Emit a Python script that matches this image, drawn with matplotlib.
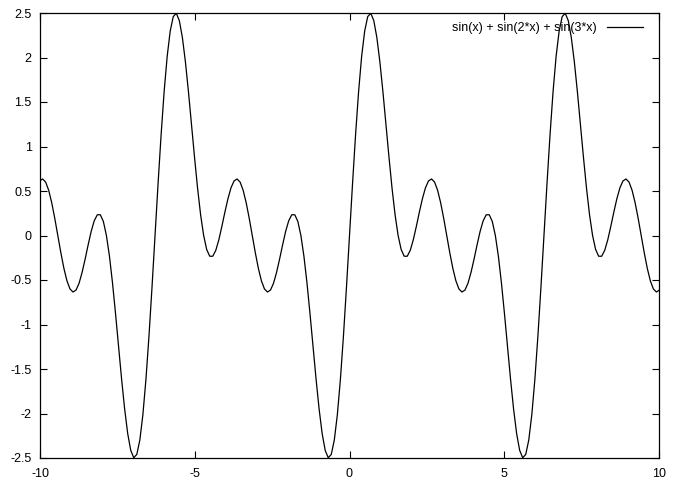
import numpy as np
import matplotlib
matplotlib.use("Agg")
from matplotlib import pyplot as plt

# samples every pi/32 from k=-102 to k=102 (x = k*pi/32)
k_start, k_end = -102, 102
y = [
    # k = -102 .. -65
    0.613, 0.635, 0.600, 0.508, 0.368, 0.193, 0.000, -0.193, -0.368, -0.508,
    -0.600, -0.635, -0.613, -0.536, -0.414, -0.264, -0.103, 0.048, 0.166, 0.233,
    0.233, 0.157, 0.000, -0.233, -0.532, -0.878, -1.248, -1.615, -1.950, -2.225,
    -2.414, -2.497, -2.460, -2.298, -2.014, -1.619, -1.133, -0.583,
    # k = -64 .. -1
    0.000, 0.583, 1.133, 1.619, 2.014, 2.298, 2.460, 2.497, 2.414, 2.225,
    1.950, 1.615, 1.248, 0.878, 0.532, 0.233, 0.000, -0.157, -0.233, -0.233,
    -0.166, -0.048, 0.103, 0.264, 0.414, 0.536, 0.613, 0.635, 0.600, 0.508,
    0.368, 0.193, 0.000, -0.193, -0.368, -0.508, -0.600, -0.635, -0.613, -0.536,
    -0.414, -0.264, -0.103, 0.048, 0.166, 0.233, 0.233, 0.157, 0.000, -0.233,
    -0.532, -0.878, -1.248, -1.615, -1.950, -2.225, -2.414, -2.497, -2.460, -2.298,
    -2.014, -1.619, -1.133, -0.583,
    # k = 0 .. 63
    0.000, 0.583, 1.133, 1.619, 2.014, 2.298, 2.460, 2.497, 2.414, 2.225,
    1.950, 1.615, 1.248, 0.878, 0.532, 0.233, 0.000, -0.157, -0.233, -0.233,
    -0.166, -0.048, 0.103, 0.264, 0.414, 0.536, 0.613, 0.635, 0.600, 0.508,
    0.368, 0.193, 0.000, -0.193, -0.368, -0.508, -0.600, -0.635, -0.613, -0.536,
    -0.414, -0.264, -0.103, 0.048, 0.166, 0.233, 0.233, 0.157, 0.000, -0.233,
    -0.532, -0.878, -1.248, -1.615, -1.950, -2.225, -2.414, -2.497, -2.460, -2.298,
    -2.014, -1.619, -1.133, -0.583,
    # k = 64 .. 102
    0.000, 0.583, 1.133, 1.619, 2.014, 2.298, 2.460, 2.497, 2.414, 2.225,
    1.950, 1.615, 1.248, 0.878, 0.532, 0.233, 0.000, -0.157, -0.233, -0.233,
    -0.166, -0.048, 0.103, 0.264, 0.414, 0.536, 0.613, 0.635, 0.600, 0.508,
    0.368, 0.193, 0.000, -0.193, -0.368, -0.508, -0.600, -0.635, -0.613,
]
x = np.arange(k_start, k_end + 1) * np.pi / 32

label = "sin(x) + sin(2*x) + sin(3*x)"
xticks = [-10, -5, 0, 5, 10]
yticks = [-2.5, -2, -1.5, -1, -0.5, 0, 0.5, 1, 1.5, 2, 2.5]

plt.rcParams['font.family'] = ['Liberation Sans', 'DejaVu Sans']
plt.rcParams['font.size'] = 9

fig = plt.figure(figsize=(6.77, 4.88), dpi=100)
ax = fig.add_axes([40/677, 1 - 458/488, 619/677, 445/488])

ax.plot(x, y, color="black", lw=0.9, label=label)
ax.set_xlim(-10, 10)
ax.set_ylim(-2.5, 2.5)
ax.set_xticks(xticks)
ax.set_xticklabels([str(t) for t in xticks])
ax.set_yticks(yticks)
ax.set_yticklabels([("%g" % t) for t in yticks])

ax.tick_params(direction="in", length=5, width=0.8, top=True, right=True, pad=6)
ax.tick_params(axis="x", pad=7)
for s in ax.spines.values():
    s.set_linewidth(0.9)

# legend sits inside the top right corner, line sample after the text
ax.legend(loc="upper right", frameon=False, markerfirst=False,
          bbox_to_anchor=(1 - 6/619, 1 + 1/445),
          handlelength=2.9, borderaxespad=0.5, borderpad=0.3, handletextpad=0.8)

fig.savefig("out.png", dpi=100)
